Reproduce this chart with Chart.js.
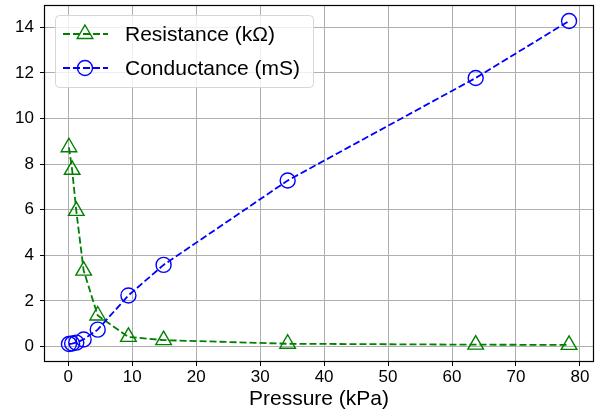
<!DOCTYPE html>
<html>
<head>
<meta charset="utf-8">
<script src="https://cdn.jsdelivr.net/npm/chart.js@4"></script>
<style>
  html, body { margin: 0; padding: 0; background: #fff; }
  #wrap { width: 598px; height: 418px; }
</style>
</head>
<body>
<div id="wrap"><canvas id="chart" width="598" height="418"></canvas></div>
<script>
const pressure = [0.1, 0.6, 1.25, 2.4, 4.6, 9.4, 14.9, 34.3, 63.7, 78.3];
const resistance = [8.74, 7.75, 5.95, 3.33, 1.36, 0.42, 0.28, 0.12, 0.08, 0.07];
const conductance = [0.11, 0.13, 0.17, 0.31, 0.74, 2.24, 3.58, 7.28, 11.78, 14.28];
const xTicks = [0, 10, 20, 30, 40, 50, 60, 70, 80];
const yTicks = [0, 2, 4, 6, 8, 10, 12, 14];
const seriesLabels = ['Resistance (k\u03A9)', 'Conductance (mS)'];

const FONT = "'Liberation Sans', Arial, sans-serif";
const GREEN = '#008000';
const BLUE = '#0000ff';

const toPoints = (ys) => pressure.map((x, i) => ({ x, y: ys[i] }));

// frame on all four sides + legend box inside the plot
const framePlugin = {
    id: 'frame',
    afterDraw(chart) {
        const { ctx, chartArea: a } = chart;
        ctx.save();
        ctx.strokeStyle = '#000';
        ctx.lineWidth = 1.2;
        ctx.strokeRect(a.left + 0.5, a.top + 0.5, a.right - a.left - 1, a.bottom - a.top - 1);

        // legend
        const bx = 55.5, by = 15.5, bw = 258, bh = 72;
        ctx.beginPath();
        ctx.roundRect(bx, by, bw, bh, 4);
        ctx.fillStyle = 'rgba(255,255,255,0.8)';
        ctx.fill();
        ctx.lineWidth = 1;
        ctx.strokeStyle = '#d6d6d6';
        ctx.stroke();

        chart.data.datasets.forEach((ds, i) => {
            const cy = 34 + i * 34;
            ctx.beginPath();
            ctx.setLineDash([7, 3]);
            ctx.strokeStyle = ds.borderColor;
            ctx.lineWidth = ds.borderWidth;
            ctx.moveTo(63, cy);
            ctx.lineTo(108, cy);
            ctx.stroke();
            ctx.setLineDash([]);
            ctx.fillStyle = 'rgba(0,0,0,0)';
            ctx.strokeStyle = ds.pointBorderColor;
            ctx.lineWidth = ds.pointBorderWidth;
            Chart.helpers.drawPoint(ctx, {
                pointStyle: ds.pointStyle,
                radius: ds.pointRadius,
                rotation: 0,
                borderWidth: ds.pointBorderWidth,
            }, 85, cy);
            ctx.fillStyle = '#000';
            ctx.font = `21px ${FONT}`;
            ctx.textBaseline = 'middle';
            ctx.fillText(ds.label, 125, cy + 1);
        });
        ctx.restore();
    },
};

new Chart(document.getElementById('chart'), {
    type: 'scatter',
    data: {
        datasets: [
            {
                label: seriesLabels[0],
                data: toPoints(resistance),
                showLine: true,
                borderColor: GREEN,
                backgroundColor: 'rgba(0,0,0,0)',
                borderDash: [7, 3],
                borderWidth: 1.8,
                pointStyle: 'triangle',
                pointRadius: 9,
                pointBorderWidth: 1.4,
                pointBorderColor: GREEN,
                pointBackgroundColor: 'rgba(0,0,0,0)',
                order: 1,
            },
            {
                label: seriesLabels[1],
                data: toPoints(conductance),
                showLine: true,
                borderColor: BLUE,
                backgroundColor: 'rgba(0,0,0,0)',
                borderDash: [7, 3],
                borderWidth: 1.8,
                pointStyle: 'circle',
                pointRadius: 7.5,
                pointBorderWidth: 1.4,
                pointBorderColor: BLUE,
                pointBackgroundColor: 'rgba(0,0,0,0)',
                order: 0,
            },
        ],
    },
    options: {
        responsive: false,
        animation: false,
        layout: { autoPadding: false, padding: { top: 5, right: 4, left: 0, bottom: 0 } },
        plugins: {
            legend: { display: false },
            tooltip: { enabled: false },
            title: { display: false },
        },
        scales: {
            x: {
                type: 'linear',
                min: -3.8,
                max: 82.2,
                afterBuildTicks: (s) => { s.ticks = xTicks.map((v) => ({ value: v })); },
                afterFit: (s) => { s.height = 56; s.paddingLeft = 0; s.paddingRight = 0; },
                grid: { color: '#b0b0b0', lineWidth: 1, tickColor: '#000', tickLength: 4 },
                border: { display: false },
                ticks: { color: '#000', padding: 1, font: { family: FONT, size: 17 } },
                title: {
                    display: true,
                    text: 'Pressure (kPa)',
                    color: '#000',
                    padding: { top: 0, bottom: 6 },
                    font: { family: FONT, size: 21 },
                },
            },
            y: {
                type: 'linear',
                min: -0.68,
                max: 14.98,
                afterBuildTicks: (s) => { s.ticks = yTicks.map((v) => ({ value: v })); },
                afterFit: (s) => { s.width = 44; s.paddingTop = 0; s.paddingBottom = 0; },
                grid: { color: '#b0b0b0', lineWidth: 1, tickColor: '#000', tickLength: 4 },
                border: { display: false },
                ticks: { color: '#000', padding: 6, font: { family: FONT, size: 17 } },
            },
        },
    },
    plugins: [framePlugin],
});
</script>
</body>
</html>
